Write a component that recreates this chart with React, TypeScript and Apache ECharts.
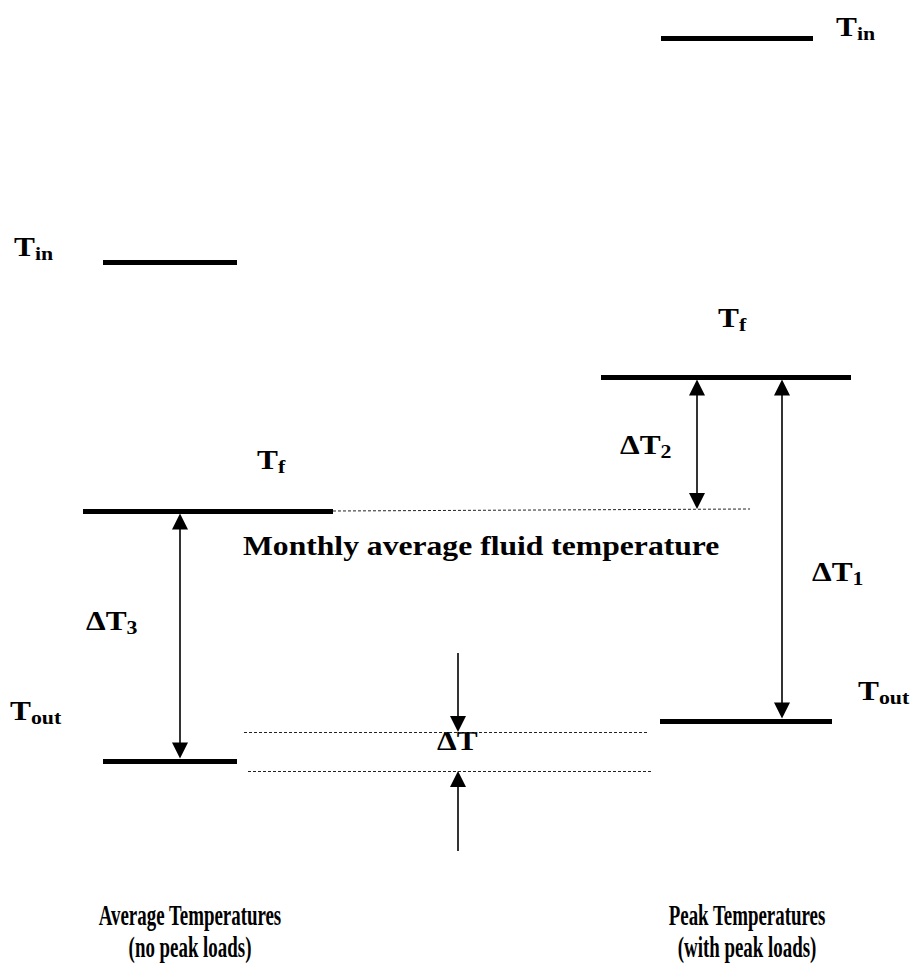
import React, { useEffect, useRef } from "react";
import * as echarts from "echarts";

// Temperature levels (diagram units, top = 0) for T_in, T_f, T_out
const levelNames = ["in", "f", "out"];
const averageLevels = [262, 511, 761];
const peakLevels = [38, 377, 721];
// horizontal extent of each level bar
const averageExtents = [[103, 237], [83, 333], [103, 237]];
const peakExtents = [[661, 813], [601, 851], [660, 832]];
// monthly average fluid temperature reference line
const monthlyLine = [[333, 511], [750, 509]];
// small temperature difference band (ΔT)
const deltaBandLevels = [732, 771];
const deltaBandExtents = [[244, 648], [248, 651]];

// double-headed arrows: [x, fromLevel, toLevel, fromIsBar, toIsBar]
const doubleArrows = [
  [180, averageLevels[1], averageLevels[2], 1, 1],
  [697, peakLevels[1], 509, 1, 0],
  [782, peakLevels[1], peakLevels[2], 1, 1],
];
// single arrows pointing at the ΔT band: [x, startLevel, tipLevel]
const singleArrows = [
  [458, 653, deltaBandLevels[0]],
  [458, 851, deltaBandLevels[1]],
];

const labelTexts = [
  "{m|T}{s|in}", "{m|T}{s|in}", "{m|T}{s|f}", "{m|T}{s|f}",
  "{m|ΔT}{s|2}", "{m|ΔT}{s|1}", "{m|ΔT}{s|3}",
  "{m|T}{s|out}", "{m|T}{s|out}", "{m|ΔT}",
];
const labelAnchors = [
  [836, 27], [14, 247], [718, 318], [257, 460],
  [620, 445], [812, 572], [86, 621],
  [10, 711], [858, 691], [437, 741],
];
const middleText = "Monthly average fluid temperature";
const middleAnchor = [243, 545];
const captionTexts = ["Average Temperatures", "(no peak loads)", "Peak Temperatures", "(with peak loads)"];
const captionAnchors = [[190, 915], [190, 947], [747, 915], [747, 947]];

const FONT = "'Liberation Serif', 'Times New Roman', serif";
const BAR_HALF = 2.5;
const ARROW_HALF = 8;

export default function App() {
  const ref = useRef<HTMLDivElement>(null);
  useEffect(() => {
    const chart = echarts.init(ref.current!, null, { renderer: "svg" });

    const barData: any[] = [];
    levelNames.forEach((_, i) => {
      barData.push({ coords: [[averageExtents[i][0], averageLevels[i]], [averageExtents[i][1], averageLevels[i]]] });
      barData.push({ coords: [[peakExtents[i][0], peakLevels[i]], [peakExtents[i][1], peakLevels[i]]] });
    });
    const dashData: any[] = [{ coords: monthlyLine }];
    deltaBandLevels.forEach((lv, i) => {
      dashData.push({ coords: [[deltaBandExtents[i][0], lv], [deltaBandExtents[i][1], lv]] });
    });
    const dblData = doubleArrows.map(([x, a, b, fa, fb]) => ({
      coords: [
        [x, a + (fa ? BAR_HALF : 0) + ARROW_HALF],
        [x, b - (fb ? BAR_HALF : 0) - ARROW_HALF],
      ],
    }));
    const sglData = singleArrows.map(([x, s, t]) => ({
      coords: [[x, s], [x, t + (t > s ? -ARROW_HALF : ARROW_HALF)]],
    }));

    chart.setOption({
      animation: false,
      backgroundColor: "#fff",
      grid: { left: 0, right: 0, top: 0, bottom: 0, containLabel: false },
      xAxis: { type: "value", min: 0, max: 914, show: false },
      yAxis: { type: "value", min: 0, max: 976, inverse: true, show: false },
      series: [
        {
          type: "lines", coordinateSystem: "cartesian2d", silent: true,
          symbol: ["none", "none"],
          lineStyle: { color: "#000", width: 5, opacity: 1 },
          data: barData,
        },
        {
          type: "lines", coordinateSystem: "cartesian2d", silent: true,
          symbol: ["none", "none"],
          lineStyle: { color: "#222", width: 1, opacity: 1, type: [3, 2] },
          data: dashData,
        },
        {
          type: "lines", coordinateSystem: "cartesian2d", silent: true,
          symbol: ["triangle", "triangle"], symbolSize: 16,
          itemStyle: { color: "#000" },
          lineStyle: { color: "#000", width: 1.6, opacity: 1 },
          data: dblData,
        },
        {
          type: "lines", coordinateSystem: "cartesian2d", silent: true,
          symbol: ["none", "triangle"], symbolSize: 16,
          itemStyle: { color: "#000" },
          lineStyle: { color: "#000", width: 1.6, opacity: 1 },
          data: sglData,
        },
      ],
    });

    const px = (p: number[]) => chart.convertToPixel({ gridIndex: 0 }, p) as number[];
    const rich = {
      m: { fontFamily: FONT, fontWeight: "bold", fontSize: 28, lineHeight: 32, fill: "#000", color: "#000" },
      s: { fontFamily: FONT, fontWeight: "bold", fontSize: 19.5, lineHeight: 18, verticalAlign: "bottom", fill: "#000", color: "#000" },
    };
    const graphic: any[] = [];
    labelTexts.forEach((t, i) => {
      const p = px(labelAnchors[i]);
      graphic.push({
        type: "text", x: p[0], y: p[1], scaleX: 1.12, silent: true,
        style: {
          text: t, rich, fill: "#000",
          fontFamily: FONT, fontWeight: "bold", fontSize: 28,
          align: "left", verticalAlign: "middle", textAlign: "left", textVerticalAlign: "middle",
        },
      });
    });
    {
      const p = px(middleAnchor);
      graphic.push({
        type: "text", x: p[0], y: p[1], scaleX: 1.13, silent: true,
        style: {
          text: middleText, fill: "#000",
          fontFamily: FONT, fontWeight: "bold", fontSize: 28,
          align: "left", verticalAlign: "middle", textAlign: "left", textVerticalAlign: "middle",
        },
      });
    }
    captionTexts.forEach((t, i) => {
      const p = px(captionAnchors[i]);
      graphic.push({
        type: "text", x: p[0], y: p[1], scaleX: 0.63, silent: true,
        style: {
          text: t, fill: "#000",
          fontFamily: FONT, fontWeight: "bold", fontSize: 30,
          align: "center", verticalAlign: "middle", textAlign: "center", textVerticalAlign: "middle",
        },
      });
    });
    chart.setOption({ graphic });

    return () => chart.dispose();
  }, []);
  return (
    <div
      ref={ref}
      style={{ position: "absolute", left: 0, top: 0, width: 914, height: 976, background: "#fff" }}
    />
  );
}
